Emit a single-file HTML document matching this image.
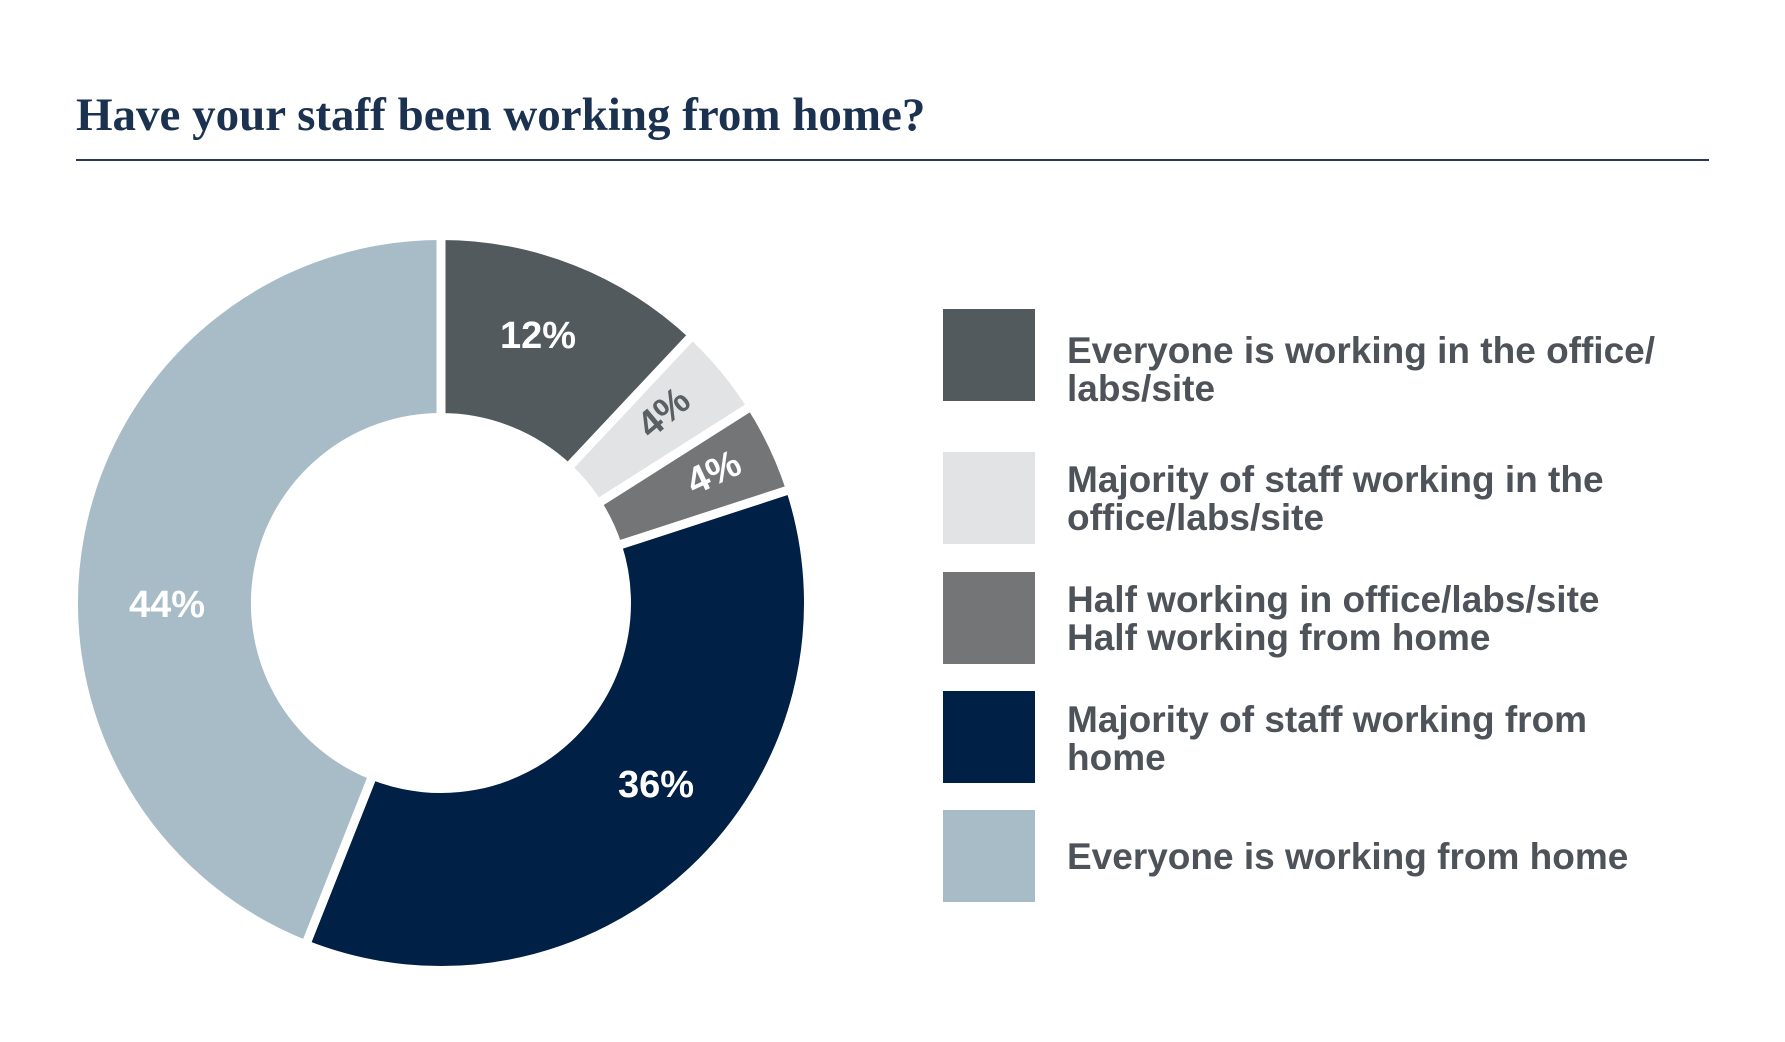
<!DOCTYPE html>
<html><head><meta charset="utf-8"><style>
html,body{margin:0;padding:0;background:#fff;}
body{width:1785px;height:1042px;position:relative;overflow:hidden;}
.t{position:absolute;font-family:"Liberation Sans",sans-serif;font-weight:bold;color:#4d5358;font-size:37px;line-height:38px;left:1067px;white-space:nowrap;}
.b{position:absolute;left:943px;width:92px;height:92px;}
</style></head><body>
<div style="position:absolute;left:76px;top:88px;font-family:'Liberation Serif',serif;font-weight:bold;font-size:47px;color:#1b3150;white-space:nowrap;">Have your staff been working from home?</div>
<div style="position:absolute;left:76px;top:159px;width:1633px;height:2px;background:#233a58;"></div>
<svg width="1785" height="1042" style="position:absolute;left:0;top:0">
<circle cx="441" cy="603" r="366" fill="none" stroke="#f0f1f2" stroke-width="1"/>
<g stroke="#fff" stroke-width="9" stroke-linejoin="miter">
<path d="M441,235.5 A367.5,367.5 0 0 1 692.6,335.1 L568,467.8 A185.5,185.5 0 0 0 441,417.5 Z" fill="#525a5e"/>
<path d="M692.6,335.1 A367.5,367.5 0 0 1 751.3,406.1 L597.6,503.6 A185.5,185.5 0 0 0 568,467.8 Z" fill="#e1e3e5"/>
<path d="M751.3,406.1 A367.5,367.5 0 0 1 790.5,489.4 L617.4,545.7 A185.5,185.5 0 0 0 597.6,503.6 Z" fill="#737576"/>
<path d="M790.5,489.4 A367.5,367.5 0 0 1 305.7,944.7 L372.7,775.5 A185.5,185.5 0 0 0 617.4,545.7 Z" fill="#012046"/>
<path d="M305.7,944.7 A367.5,367.5 0 0 1 441,235.5 L441,417.5 A185.5,185.5 0 0 0 372.7,775.5 Z" fill="#a7bcc6"/>
</g>
<g font-family="Liberation Sans, sans-serif" font-weight="bold" font-size="38" text-anchor="middle" dominant-baseline="central">
<text x="538" y="336" fill="#fff">12%</text>
<text x="664" y="413" fill="#5a5f63" transform="rotate(-40 664 413)">4%</text>
<text x="714" y="473" fill="#fff" transform="rotate(-25 714 473)">4%</text>
<text x="167" y="605" fill="#fff">44%</text>
<text x="656" y="785" fill="#fff">36%</text>
</g>
</svg>
<div class="b" style="top:309px;background:#525a5e"></div>
<div class="b" style="top:452px;background:#e1e3e5"></div>
<div class="b" style="top:572px;background:#737576"></div>
<div class="b" style="top:691px;background:#012046"></div>
<div class="b" style="top:810px;background:#a7bcc6"></div>
<div class="t" style="top:332px">Everyone is working in the office/<br>labs/site</div>
<div class="t" style="top:461px">Majority of staff working in the<br>office/labs/site</div>
<div class="t" style="top:581px">Half working in office/labs/site<br>Half working from home</div>
<div class="t" style="top:701px">Majority of staff working from<br>home</div>
<div class="t" style="top:838px">Everyone is working from home</div>
</body></html>
